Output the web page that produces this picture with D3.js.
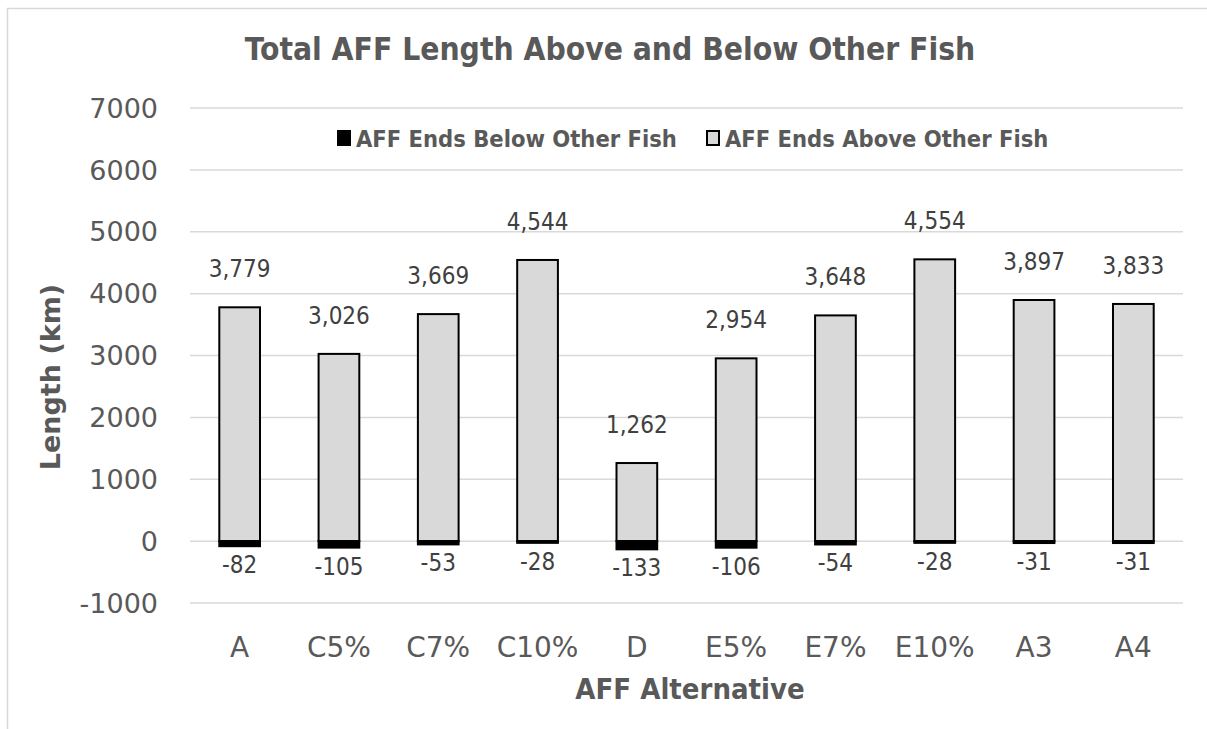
<!DOCTYPE html>
<html><head><meta charset="utf-8">
<script src="https://cdn.jsdelivr.net/npm/d3@7"></script>
<style>body{margin:0;background:#fff}svg{display:block}</style>
</head><body><svg id="c" width="1207" height="729"></svg>
<script>
const categories = ["A","C5%","C7%","C10%","D","E5%","E7%","E10%","A3","A4"];
const belowValues = [-82,-105,-53,-28,-133,-106,-54,-28,-31,-31];
const aboveValues = [3779,3026,3669,4544,1262,2954,3648,4554,3897,3833];
const yTicks = [-1000,0,1000,2000,3000,4000,5000,6000,7000];
const seriesNames = ["AFF Ends Below Other Fish","AFF Ends Above Other Fish"];
const titleText = "Total AFF Length Above and Below Other Fish";
const xTitle = "AFF Alternative";
const yTitle = "Length (km)";

const svg = d3.select("#c");
const txt = "#595959";
const font = "'DejaVu Sans Condensed','DejaVu Sans',sans-serif";
const fontW = "'DejaVu Sans',sans-serif";
svg.append("rect").attr("x",7.5).attr("y",8.5).attr("width",1250).attr("height",800)
  .attr("fill","#fff").attr("stroke","#d9d9d9").attr("stroke-width",1.5);

const x = d3.scaleBand().domain(categories).range([190,1183]).paddingInner(0.59).paddingOuter(0.295);
const y = d3.scaleLinear().domain([-1000,7000]).range([603,108]);
const fmt = v => d3.format(",")(v).replace("\u2212","-");

// grid
svg.append("g").selectAll("line").data(yTicks).join("line")
  .attr("x1",190).attr("x2",1183).attr("y1",d=>y(d)).attr("y2",d=>y(d))
  .attr("stroke","#d9d9d9").attr("stroke-width",1.5);

// y labels
svg.append("g").selectAll("text").data(yTicks).join("text")
  .attr("x",158).attr("y",d=>y(d)).attr("dy","0.36em").attr("text-anchor","end")
  .attr("font-family",fontW).attr("font-size",27).attr("fill",txt).text(d=>String(d));

// bars above
svg.append("g").selectAll("rect").data(aboveValues).join("rect")
  .attr("x",(d,i)=>x(categories[i])).attr("width",x.bandwidth())
  .attr("y",d=>y(d)).attr("height",d=>y(0)-y(d))
  .attr("fill","#d9d9d9").attr("stroke","#000").attr("stroke-width",2);
// bars below
svg.append("g").selectAll("rect").data(belowValues).join("rect")
  .attr("x",(d,i)=>x(categories[i])).attr("width",x.bandwidth())
  .attr("y",y(0)).attr("height",d=>y(d)-y(0))
  .attr("fill","#000").attr("stroke","#000").attr("stroke-width",2);

// labels
svg.append("g").selectAll("text").data(aboveValues).join("text")
  .attr("x",(d,i)=>x(categories[i])+x.bandwidth()/2).attr("y",d=>y(d)-30)
  .attr("text-anchor","middle").attr("font-family",font).attr("font-size",24).attr("fill","#404040")
  .text(d=>fmt(d));
svg.append("g").selectAll("text").data(belowValues).join("text")
  .attr("x",(d,i)=>x(categories[i])+x.bandwidth()/2).attr("y",d=>y(d)+27)
  .attr("text-anchor","middle").attr("font-family",font).attr("font-size",24).attr("fill","#404040")
  .text(d=>fmt(d));

// x labels
svg.append("g").selectAll("text").data(categories).join("text")
  .attr("x",d=>x(d)+x.bandwidth()/2).attr("y",657)
  .attr("text-anchor","middle").attr("font-family",fontW).attr("font-size",28).attr("fill",txt).text(d=>d);

// titles
svg.append("text").attr("x",610).attr("y",60).attr("text-anchor","middle")
  .attr("font-family",font).attr("font-weight","bold").attr("font-size",31.5).attr("fill",txt).text(titleText);
svg.append("text").attr("x",690).attr("y",699).attr("text-anchor","middle")
  .attr("font-family",font).attr("font-weight","bold").attr("font-size",29).attr("fill",txt).text(xTitle);
svg.append("text").attr("transform","translate(60,377) rotate(-90)").attr("text-anchor","middle")
  .attr("font-family",fontW).attr("font-weight","bold").attr("font-size",27).attr("fill",txt).text(yTitle);

// legend
const lg = svg.append("g");
const lx = [338,707];
seriesNames.forEach((n,i)=>{
  lg.append("rect").attr("x",lx[i]).attr("y",131).attr("width",12).attr("height",14)
    .attr("fill",i===0?"#000":"#d9d9d9").attr("stroke","#000").attr("stroke-width",2);
  lg.append("text").attr("x",lx[i]+18).attr("y",147).attr("font-family",font).attr("font-weight","bold")
    .attr("font-size",23.5).attr("fill",txt).text(n);
});
</script></body></html>
